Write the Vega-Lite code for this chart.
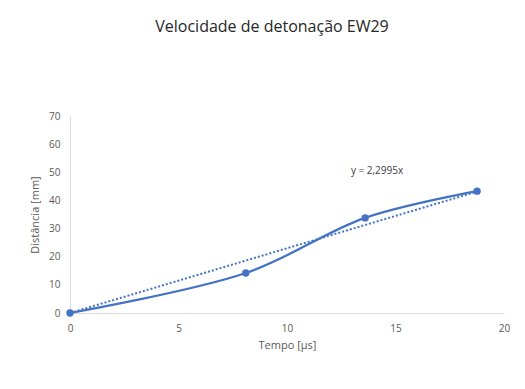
{
  "$schema": "https://vega.github.io/schema/vega-lite/v6.json",
  "width": 434,
  "height": 197,
  "autosize": "none",
  "padding": {"left": 70, "top": 116, "right": 21, "bottom": 76},
  "background": "white",
  "title": {
    "text": "Velocidade de detonação EW29",
    "font": "Open Sans",
    "fontSize": 16,
    "fontWeight": "normal",
    "color": "#262626",
    "anchor": "middle",
    "frame": "group",
    "dx": -15,
    "offset": 76
  },
  "datasets": {
    "pts": [
      {"t": 0, "d": 0},
      {"t": 8.1, "d": 14.2},
      {"t": 13.6, "d": 33.8},
      {"t": 18.76, "d": 43.3}
    ],
    "trend": [
      {"t": 0, "d": 0},
      {"t": 18.76, "d": 43.14}
    ],
    "eq": [
      {"t": 14.15, "d": 50.5, "label": "y = 2,2995x"}
    ]
  },
  "config": {
    "view": {"stroke": null},
    "axis": {
      "labelFont": "Open Sans",
      "titleFont": "Open Sans",
      "labelFontSize": 10,
      "titleFontSize": 11,
      "labelColor": "#595959",
      "titleColor": "#595959",
      "titleFontWeight": "normal",
      "grid": false,
      "ticks": false,
      "labelOverlap": false,
      "labelFlush": false,
      "domainColor": "#d9d9d9",
      "domainWidth": 1
    }
  },
  "encoding": {
    "x": {"field": "t", "type": "quantitative", "scale": {"domain": [0, 20]}, "axis": {"values": [0, 5, 10, 15, 20], "title": "Tempo [µs]", "labelPadding": 10, "titlePadding": 6}},
    "y": {"field": "d", "type": "quantitative", "scale": {"domain": [0, 70]}, "axis": {"values": [0, 10, 20, 30, 40, 50, 60, 70], "title": "Distância [mm]", "labelPadding": 10, "titlePadding": 8}}
  },
  "layer": [
    {
      "data": {"name": "trend"},
      "mark": {"type": "line", "color": "#4472C4", "strokeWidth": 2, "strokeDash": [2, 2]}
    },
    {
      "data": {"name": "pts"},
      "mark": {"type": "line", "color": "#4472C4", "strokeWidth": 2.25, "interpolate": "catmull-rom", "point": {"filled": true, "size": 55, "color": "#4472C4"}}
    },
    {
      "data": {"name": "eq"},
      "mark": {"type": "text", "font": "Open Sans", "fontSize": 10, "color": "#404040"},
      "encoding": {
        "text": {"field": "label"}
      }
    }
  ]
}
